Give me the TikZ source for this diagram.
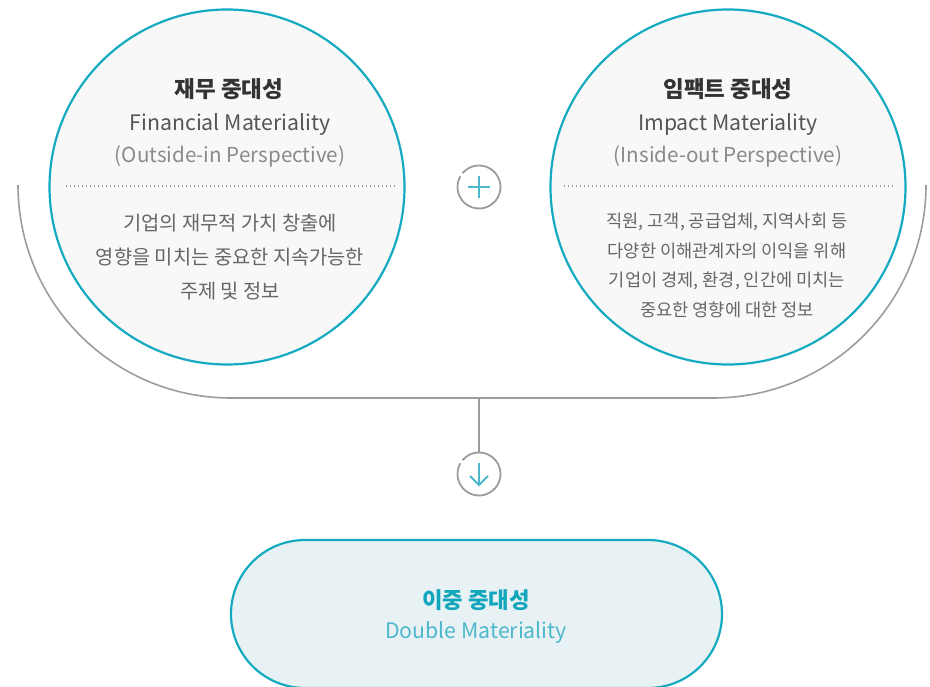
\documentclass[tikz,border=0pt]{standalone}
\usepackage{fontspec}
\usetikzlibrary{shapes.misc}
\setmainfont{Noto Sans CJK KR}
\definecolor{teal1}{HTML}{14AAC0}
\definecolor{teal2}{HTML}{4DB8CB}
\definecolor{tealtext}{HTML}{12A6BC}
\definecolor{circfill}{HTML}{F8F8F8}
\definecolor{pillfill}{HTML}{E8F2F5}
\definecolor{gline}{HTML}{9C9C9C}
\definecolor{titlec}{HTML}{333333}
\definecolor{subc}{HTML}{555555}
\definecolor{persc}{HTML}{8A8A8A}
\definecolor{bodyc}{HTML}{666666}
\tikzset{
  bigcirc/.style={circle, draw=teal1, line width=2.2pt, fill=circfill, minimum size=355pt, inner sep=0pt},
  ttl/.style={font=\fontsize{22.5}{26}\selectfont\bfseries, text=titlec, inner sep=0pt},
  sub/.style={font=\fontsize{21.3}{25}\selectfont, text=subc, inner sep=0pt},
  pers/.style={font=\fontsize{20.6}{25}\selectfont, text=persc, inner sep=0pt},
  bodyl/.style={font=\fontsize{19.8}{34}\selectfont, text=bodyc, align=center, inner sep=0pt},
  bodyr/.style={font=\fontsize{17.6}{29.4}\selectfont, text=bodyc, align=center, inner sep=0pt},
  dotline/.style={draw=gline, line width=1.4pt, dash pattern=on 1.4pt off 2.6pt},
  gline/.style={draw=gline, line width=1.6pt},
  smallc/.style={circle, draw=none, minimum size=43pt, inner sep=0pt, fill=white},
  ring/.style={draw=gline, line width=1.8pt},
  tealmark/.style={draw=teal2, line width=2pt},
}
\begin{document}
\begin{tikzpicture}[x=1pt,y=-1pt]
\useasboundingbox (0,0) rectangle (930,687);
% U-shaped connector
\coordinate (uL) at (18,185);
\coordinate (uR) at (926,185);
\coordinate (uB) at (479,398);
\draw[gline] (uL) arc[start angle=180, end angle=90, radius=213] -- (713,398) arc[start angle=90, end angle=0, radius=213];
% circles
\node[bigcirc] (fin) at (227,187) {};
\node[bigcirc] (imp) at (728,187) {};
% dotted lines
\draw[dotline] (66,186) -- (396,186);
\draw[dotline] (564,186) -- (894,186);
% left texts
\node[ttl] (finT) at (229,89.5) {재무 중대성};
\node[sub] (finS) at (230,125) {Financial Materiality};
\node[pers] (finP) at (230,156) {(Outside-in Perspective)};
\node[bodyl] (finB) at (230,257) {기업의 재무적 가치 창출에\\영향을 미치는 중요한 지속가능한\\주제 및 정보};
% right texts
\node[ttl] (impT) at (728,89.5) {임팩트 중대성};
\node[sub] (impS) at (728,125) {Impact Materiality};
\node[pers] (impP) at (728,156) {(Inside-out Perspective)};
\node[bodyr] (impB) at (727,265.5) {직원, 고객, 공급업체, 지역사회 등\\다양한 이해관계자의 이익을 위해\\기업이 경제, 환경, 인간에 미치는\\중요한 영향에 대한 정보};
% plus
\node[smallc] (plus) at (479,187) {};
\draw[ring] (plus.center) ++(220:21.5) arc[start angle=220, end angle=570, radius=21.5];
\draw[tealmark] (468,187) -- (490,187);
\draw[tealmark] (479,176) -- (479,198);
% down arrow
\node[smallc] (down) at (479,474) {};
\draw[ring] (down.center) ++(220:21.5) arc[start angle=220, end angle=570, radius=21.5];
\draw[gline] (uB) -- (down.north);
\draw[tealmark] (479,463) -- (479,485);
\draw[tealmark, line join=miter] (470,476) -- (479,485) -- (488,476);
% pill
\node[rounded rectangle, draw=teal1, line width=2.2pt, fill=pillfill, minimum width=491pt, minimum height=148pt, inner sep=0pt] (dbl) at (476.5,614) {};
\node[font=\fontsize{22.3}{26}\selectfont\bfseries, text=tealtext, inner sep=0pt] (dblT) at (476,600.5) {이중 중대성};
\node[font=\fontsize{21.3}{25}\selectfont, text=teal2, inner sep=0pt] (dblS) at (476,633) {Double Materiality};
\end{tikzpicture}
\end{document}
